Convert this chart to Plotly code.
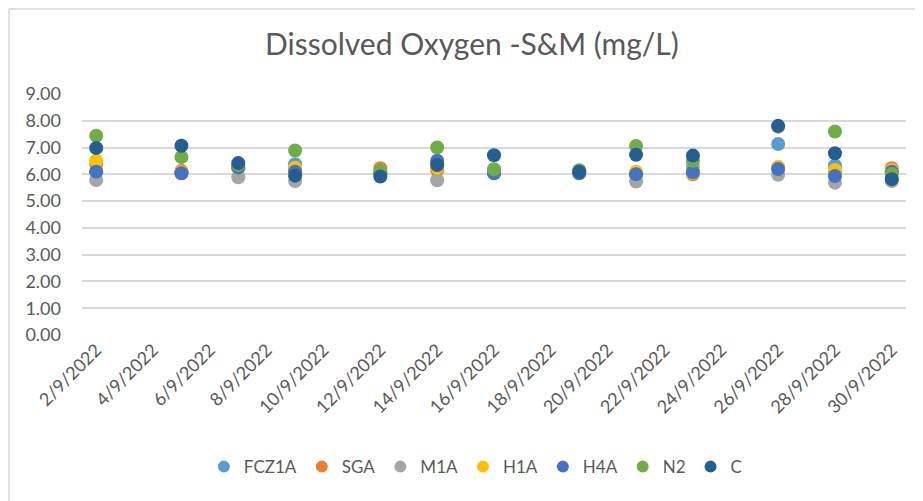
import plotly.graph_objects as go

dates = ["2022-09-02", "2022-09-05", "2022-09-07", "2022-09-09", "2022-09-12",
         "2022-09-14", "2022-09-16", "2022-09-19", "2022-09-21", "2022-09-23",
         "2022-09-26", "2022-09-28", "2022-09-30"]

fcz1a = [6.10, 6.05, 6.25, 6.38, 6.05, 6.40, 6.10, 6.10, 6.00, 6.03, 7.13, 6.33, 6.10]
sga   = [6.39, 6.13, 6.25, 6.20, 6.23, 6.16, 6.10, 6.10, 6.05, 6.00, 6.25, 6.10, 6.23]
m1a   = [5.79, 6.05, 5.89, 5.75, 6.00, 5.78, 6.05, 6.05, 5.73, 6.29, 5.98, 5.69, 5.75]
h1a   = [6.51, 6.08, 6.25, 6.25, 6.05, 6.25, 6.10, 6.08, 6.10, 6.05, 6.28, 6.16, 6.16]
h4a   = [6.10, 6.04, 6.25, 6.10, 6.05, 6.51, 6.04, 6.04, 6.00, 6.08, 6.20, 5.94, 6.10]
n2    = [7.44, 6.65, 6.35, 6.89, 6.13, 7.00, 6.19, 6.15, 7.06, 6.51, 7.78, 7.60, 6.01]
c     = [6.98, 7.07, 6.42, 5.95, 5.92, 6.35, 6.71, 6.10, 6.73, 6.70, 7.81, 6.79, 5.82]

series_names = ["FCZ1A", "SGA", "M1A", "H1A", "H4A", "N2", "C"]
series_values = [fcz1a, sga, m1a, h1a, h4a, n2, c]
series_colors = ["#5B9BD5", "#ED7D31", "#A5A5A5", "#FFC000", "#4472C4", "#70AD47", "#255E91"]

y_tick_values = [0, 1, 2, 3, 4, 5, 6, 7, 8, 9]

FONT = "Lato, 'Open Sans', sans-serif"
TXT = "#595959"

fig = go.Figure()
for name, vals, col in zip(series_names, series_values, series_colors):
    fig.add_trace(go.Scatter(
        x=dates, y=vals, mode="markers", name=name,
        marker=dict(color=col, size=14, line=dict(width=0)),
    ))

border = dict(color="#D9D9D9", width=1.5)
fig.update_layout(
    width=915, height=493,
    margin=dict(l=74, r=17, t=86, b=166),
    paper_bgcolor="white", plot_bgcolor="white",
    font=dict(family=FONT, color=TXT, size=18),
    title=dict(text="Dissolved Oxygen -S&M (mg/L)", x=0.507, xanchor="center",
               y=0.925, yanchor="middle", font=dict(size=30, color=TXT, family=FONT)),
    showlegend=True,
    legend=dict(orientation="h", x=0.478, xanchor="center", y=-0.548, yanchor="middle",
                font=dict(size=17, color=TXT, family=FONT), itemsizing="constant",
                traceorder="normal"),
    xaxis=dict(type="date", range=["2022-09-01 12:00", "2022-09-30 12:00"],
               tick0="2022-09-02", dtick=2 * 86400000, tickformat="%-d/%-m/%Y",
               tickangle=-45, showgrid=False, zeroline=False, showline=False,
               ticks="", tickfont=dict(size=18, color=TXT, family=FONT)),
    yaxis=dict(range=[0, 9], tickvals=y_tick_values, tickformat=".2f",
               showgrid=True, gridcolor="#D9D9D9", gridwidth=1.5, zeroline=False,
               showline=False, ticks="", ticklabelstandoff=20,
               tickfont=dict(size=18, color=TXT, family=FONT)),
    shapes=[
        dict(type="line", xref="paper", yref="paper", x0=-0.0886, x1=-0.0886,
             y0=-0.8, y1=1.353, line=border, layer="below"),
        dict(type="line", xref="paper", yref="paper", x0=-0.0886, x1=1.03,
             y0=1.353, y1=1.353, line=border, layer="below"),
    ],
)

fig.write_html("out.html")
